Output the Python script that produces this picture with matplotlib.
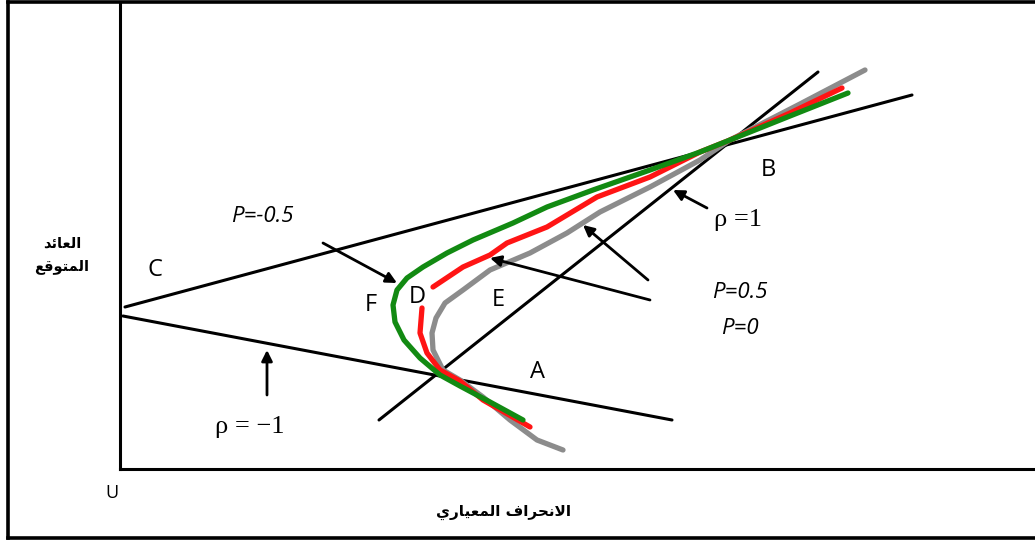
import numpy as np
import matplotlib
matplotlib.use("Agg")
import matplotlib.pyplot as plt
from matplotlib.lines import Line2D

# chart values (risk on x, expected return on y)
green_x = [403, 370, 340, 320, 300, 284, 275, 273, 277, 287, 303, 327, 353, 393, 427, 473, 530, 580, 610, 670, 728]
green_y = [49, 67, 83, 94, 111, 129, 147, 164, 179, 191, 202, 216, 229, 246, 262, 279, 299, 317, 329, 353, 376]

red_low_x = [410, 363, 340, 320, 307, 300, 302]
red_low_y = [42, 69, 88, 99, 116, 136, 161]
red_up_x = [313, 343, 370, 387, 427, 477, 530, 580, 610, 670, 722]
red_up_y = [182, 202, 214, 226, 242, 272, 292, 317, 329, 356, 381]

grey_x = [443, 417, 390, 363, 340, 323, 313, 312, 316, 325, 343, 370, 410, 447, 480, 530, 580, 610, 680, 745]
grey_y = [19, 29, 49, 72, 89, 99, 119, 136, 151, 166, 179, 199, 216, 236, 257, 282, 309, 329, 365, 399]

# straight black lines: (x0, x1), (y0, y1)
line_c_x, line_c_y = [5, 792], [162, 374]
line_rho1_x, line_rho1_y = [259, 698], [49, 397]
line_neg_x, line_neg_y = [3, 552], [153, 49]

# arrows: (tail, head)
arrows = [
    ((203, 226), (277, 186)),
    ((147, 74), (147, 119)),
    ((587, 261), (553, 279)),
    ((530, 169), (370, 211)),
    ((528, 189), (463, 244)),
]

point_labels = ["C", "F", "D", "E", "A", "B"]
point_x = [35, 251, 297, 378, 418, 648]
point_y = [199, 164, 172, 169, 97, 299]

p_labels = ["P=-0.5", "P=0.5", "P=0"]
p_x = [142, 620, 620]
p_y = [253, 177, 140]

rho_labels = ["\u03c1 =1", "\u03c1 = \u22121"]
rho_x = [618, 130]
rho_y = [249, 42]

y_label = ["العائد", "المتوقع"]
x_label = "الانحراف المعياري"

# arabic contextual forms (isolated, final, initial, medial)
FORMS = {
    "ا": ("\uFE8D", "\uFE8E", None, None),
    "ل": ("\uFEDD", "\uFEDE", "\uFEDF", "\uFEE0"),
    "ع": ("\uFEC9", "\uFECA", "\uFECB", "\uFECC"),
    "ئ": ("\uFE89", "\uFE8A", "\uFE8B", "\uFE8C"),
    "د": ("\uFEA9", "\uFEAA", None, None),
    "م": ("\uFEE1", "\uFEE2", "\uFEE3", "\uFEE4"),
    "ت": ("\uFE95", "\uFE96", "\uFE97", "\uFE98"),
    "و": ("\uFEED", "\uFEEE", None, None),
    "ق": ("\uFED5", "\uFED6", "\uFED7", "\uFED8"),
    "ن": ("\uFEE5", "\uFEE6", "\uFEE7", "\uFEE8"),
    "ح": ("\uFEA1", "\uFEA2", "\uFEA3", "\uFEA4"),
    "ر": ("\uFEAD", "\uFEAE", None, None),
    "ف": ("\uFED1", "\uFED2", "\uFED3", "\uFED4"),
    "ي": ("\uFEF1", "\uFEF2", "\uFEF3", "\uFEF4"),
}


def shape(text):
    out = []
    i = 0
    while i < len(text):
        c = text[i]
        if c not in FORMS:
            out.append(c)
            i += 1
            continue
        prev = text[i - 1] if i > 0 else None
        joins_prev = prev in FORMS and FORMS[prev][2] is not None
        if c == "ل" and i + 1 < len(text) and text[i + 1] == "ا":
            out.append("\uFEFC" if joins_prev else "\uFEFB")
            i += 2
            continue
        nxt = text[i + 1] if i + 1 < len(text) else None
        iso, fin, ini, med = FORMS[c]
        joins_next = ini is not None and nxt in FORMS
        if joins_prev and joins_next:
            out.append(med)
        elif joins_prev:
            out.append(fin)
        elif joins_next:
            out.append(ini)
        else:
            out.append(iso)
        i += 1
    return "".join(reversed(out))


W, H = 1035, 541
fig = plt.figure(figsize=(W / 100, H / 100), dpi=100)
ax = fig.add_axes([120 / W, 72 / H, 915 / W, 467 / H])
ax.set_xlim(0, 915)
ax.set_ylim(0, 467)
for s in ["top", "right"]:
    ax.spines[s].set_visible(False)
for s in ["left", "bottom"]:
    ax.spines[s].set_linewidth(2.2)
ax.set_xticks([])
ax.set_yticks([])
ax.patch.set_alpha(0)

# outer frame
frame = dict(color="black", lw=2.6, transform=fig.transFigure)
fig.add_artist(Line2D([8 / W, 1.01], [1 - 2 / H, 1 - 2 / H], **frame))
fig.add_artist(Line2D([8 / W, 1.01], [3 / H, 3 / H], **frame))
fig.add_artist(Line2D([8 / W, 8 / W], [3 / H, 1 - 2 / H], **frame))

blk = dict(color="black", lw=2.2, solid_capstyle="round")
ax.plot(line_c_x, line_c_y, **blk)
ax.plot(line_rho1_x, line_rho1_y, **blk)
ax.plot(line_neg_x, line_neg_y, **blk)

for tail, head in arrows:
    ax.annotate("", xy=head, xytext=tail,
                arrowprops=dict(arrowstyle="-|>", color="black", lw=2.0,
                                mutation_scale=16, shrinkA=0, shrinkB=0))

cur = dict(lw=3.8, solid_capstyle="round", solid_joinstyle="round")
ax.plot(grey_x, grey_y, color="#8c8c8c", **cur)
ax.plot(red_low_x, red_low_y, color="#ff1414", **cur)
ax.plot(red_up_x, red_up_y, color="#ff1414", **cur)
ax.plot(green_x, green_y, color="#128a12", **cur)

for t, x, y in zip(point_labels, point_x, point_y):
    ax.text(x, y, t, fontsize=17, family="Open Sans", ha="center", va="center")
for t, x, y in zip(p_labels, p_x, p_y):
    ax.text(x, y, t, fontsize=16, family="Open Sans", style="italic",
            ha="center", va="center")
for t, x, y in zip(rho_labels, rho_x, rho_y):
    ax.text(x, y, t, fontsize=19, family="Liberation Serif", ha="center", va="center")

fig.text(62 / W, 1 - 243 / H, shape(y_label[0]), fontsize=10.5, weight="bold",
         family="DejaVu Sans", ha="center", va="center")
fig.text(62 / W, 1 - 266 / H, shape(y_label[1]), fontsize=10.5, weight="bold",
         family="DejaVu Sans", ha="center", va="center")
fig.text(503 / W, 1 - 512 / H, shape(x_label), fontsize=11, weight="bold",
         family="DejaVu Sans", ha="center", va="center")
fig.text(112 / W, 1 - 493 / H, "U", fontsize=13, family="Open Sans",
         ha="center", va="center")

fig.savefig("out.png", dpi=100)
